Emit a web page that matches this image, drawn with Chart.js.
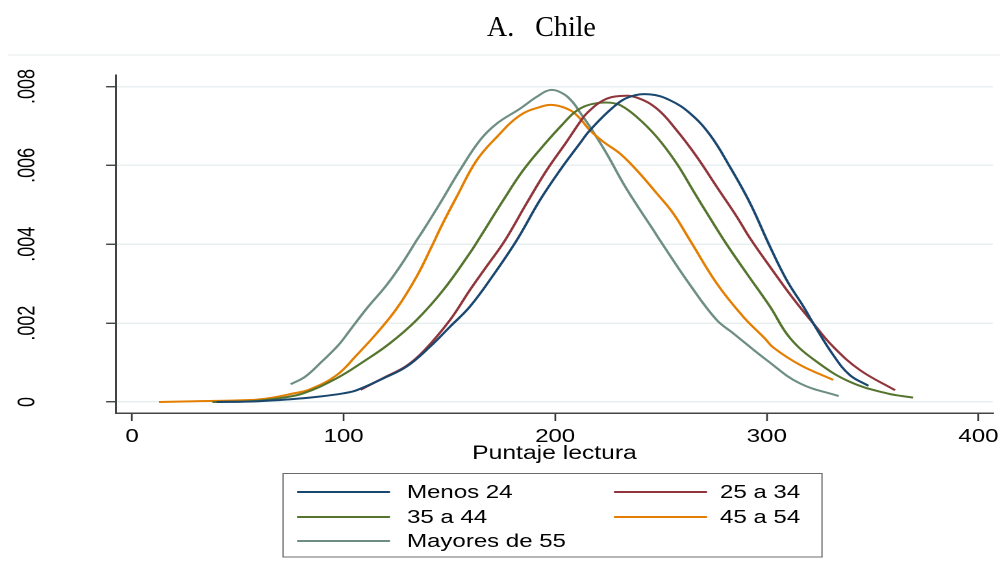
<!DOCTYPE html>
<html>
<head>
<meta charset="utf-8">
<script src="https://cdn.jsdelivr.net/npm/chart.js@4/dist/chart.umd.min.js"></script>
<style>
  html, body { margin: 0; padding: 0; background: #fff; overflow: hidden; }
  /* the reference graph is stretched horizontally; draw narrower and widen it */
  #wrap { width: 776px; height: 575px; transform: scaleX(1.298969); transform-origin: 0 0; }
</style>
</head>
<body>
<div id="wrap"><canvas id="chart" width="776" height="575"></canvas></div>
<script>
const S = 1008 / 776;

const titleText = 'A.   Chile';
const xTitle = 'Puntaje lectura';
const seriesNames = ['Menos 24', '25 a 34', '35 a 44', '45 a 54', 'Mayores de 55'];
const seriesColors = ['#1a476f', '#90353b', '#55752f', '#e37e00', '#6e8e84'];

const xTicks = [0, 100, 200, 300, 400];
const yTicks = [0, 0.002, 0.004, 0.006, 0.008];
const yTickLabels = ['0', '.002', '.004', '.006', '.008'];

// [puntaje, densidad]
const menos24 = [
  [40, 0], [60, 0.00002], [75, 0.00007], [87.3, 0.00013], [100, 0.00022], [106.2, 0.0003],
  [118.8, 0.0006], [129.8, 0.0009], [140.8, 0.0014], [150.3, 0.00191], [159.7, 0.00242],
  [170.5, 0.0032], [181.8, 0.0041], [192.8, 0.00512], [202.3, 0.00588], [211.7, 0.00656],
  [216.4, 0.00689], [227.5, 0.00748], [235.3, 0.00774], [244.8, 0.0078], [254.3, 0.00765],
  [263.7, 0.00732], [273.2, 0.00677], [282.6, 0.00596], [292.1, 0.00504], [301.5, 0.00394],
  [309.4, 0.00309], [317.3, 0.00242], [322, 0.00199], [331.4, 0.00119], [339.3, 0.00068],
  [348, 0.00041]
];
const de25a34 = [
  [108, 0.00031], [118.8, 0.00061], [129.8, 0.00092], [138, 0.0013], [150.3, 0.00208],
  [159.7, 0.00284], [168, 0.00347], [176.3, 0.0041], [186.5, 0.00504], [196, 0.00588],
  [205.4, 0.0066], [211.7, 0.0071], [214.9, 0.00732], [222.7, 0.00765], [230.6, 0.00776],
  [238.5, 0.00772], [248, 0.00744], [257.4, 0.00689], [266.9, 0.00622], [276.3, 0.00546],
  [285.8, 0.0047], [292.1, 0.00415], [301.5, 0.00343], [312.5, 0.00262], [322, 0.00199],
  [331.4, 0.0014], [344, 0.00081], [360.6, 0.0003]
];
const de35a44 = [
  [38, 0], [55.8, 0.00002], [70, 0.0001], [81, 0.00022], [96.7, 0.0006], [109.3, 0.00102],
  [121.9, 0.00149], [134.5, 0.00208], [147.1, 0.00284], [159.7, 0.00378], [164.5, 0.00418],
  [175.5, 0.00512], [184.9, 0.00588], [196, 0.0066], [203.8, 0.00706], [209, 0.00734],
  [214, 0.0075], [220, 0.00758], [226, 0.00759], [231, 0.00752], [238.5, 0.00723], [248, 0.00672],
  [257.4, 0.00605], [265.3, 0.00535], [273.2, 0.00466], [281, 0.004], [290.5, 0.00326],
  [301.5, 0.00242], [311, 0.00162], [323.6, 0.00102], [339.3, 0.00051], [356.7, 0.00022],
  [369.2, 0.00011]
];
const de45a54 = [
  [12.8, 0], [30, 0.00002], [55.8, 0.00005], [65, 0.0001], [74.7, 0.0002], [84, 0.00032],
  [96.7, 0.00068], [106.2, 0.00119], [115.6, 0.00174], [125.1, 0.00237], [134.5, 0.00318],
  [141.6, 0.00394], [146.4, 0.00448], [153.4, 0.0052], [162.9, 0.00613], [172.4, 0.00672],
  [183.4, 0.00727], [192.8, 0.00748], [199.1, 0.00753], [207, 0.0074], [211.7, 0.00719],
  [216.4, 0.00689], [222.7, 0.0066], [230.6, 0.0063], [238.5, 0.00588], [248, 0.00529],
  [255.8, 0.00478], [263.7, 0.0041], [276.3, 0.00301], [288.9, 0.00216], [299.1, 0.00161],
  [303.1, 0.00138], [315.7, 0.00094], [331.4, 0.00056]
];
const mayores55 = [
  [75, 0.00045], [81.8, 0.00064], [89.6, 0.00102], [97.5, 0.00144], [103, 0.00182],
  [110.9, 0.00237], [120.4, 0.00297], [128.2, 0.00356], [134.5, 0.0041], [137.7, 0.00436],
  [145.6, 0.00504], [155, 0.00588], [164.5, 0.00664], [172.4, 0.00706], [183.4, 0.00744],
  [191.3, 0.00774], [197.5, 0.00791], [203, 0.00784], [208, 0.00762], [212, 0.00732],
  [216.4, 0.00698], [224.3, 0.0063], [232.2, 0.00554], [240.1, 0.00487], [246.4, 0.00436],
  [249.5, 0.0041], [263.7, 0.00297], [276.3, 0.00208], [284.2, 0.00174], [300, 0.00106],
  [315.7, 0.00047], [334, 0.00015]
];

const seriesData = [menos24, de25a34, de35a44, de45a54, mayores55];

const datasets = seriesNames.map((name, i) => ({
  label: name,
  data: seriesData[i].map(p => ({ x: p[0], y: p[1] })),
  borderColor: seriesColors[i],
  backgroundColor: seriesColors[i],
  borderWidth: 2,
  pointRadius: 0,
  fill: false,
  tension: 0.4
}));

// title, faint outer frame and the boxed legend (drawn in chart coords)
const decorations = {
  id: 'decorations',
  beforeDraw(chart) {
    const ctx = chart.ctx;
    ctx.save();
    ctx.strokeStyle = '#edf2f3';
    ctx.lineWidth = 1.5;
    ctx.beginPath();
    ctx.moveTo(8 / S, 55);
    ctx.lineTo(1000 / S, 55);
    ctx.stroke();
    ctx.restore();
  },
  afterDraw(chart) {
    const ctx = chart.ctx;
    ctx.save();
    // title is not stretched in the reference
    ctx.translate(487 / S, 36);
    ctx.scale(1 / S, 1);
    ctx.fillStyle = '#000';
    ctx.font = '28px "Liberation Serif"';
    ctx.textBaseline = 'alphabetic';
    ctx.textAlign = 'left';
    ctx.fillText(titleText, 0, 0);
    ctx.restore();

    ctx.save();
    ctx.fillStyle = '#fff';
    ctx.strokeStyle = '#6b6b6b';
    ctx.lineWidth = 1;
    ctx.fillRect(283 / S, 473, (822 - 283) / S, 84);
    ctx.strokeRect(283 / S, 473.5, (822 - 283) / S, 83.5);
    const cols = [[297, 390, 407], [614, 707, 720]];
    const rows = [492, 517, 541];
    ctx.font = '18.5px "Liberation Sans"';
    ctx.textBaseline = 'middle';
    ctx.textAlign = 'left';
    chart.data.datasets.forEach((ds, i) => {
      const c = cols[i % 2];
      const y = rows[Math.floor(i / 2)];
      ctx.strokeStyle = ds.borderColor;
      ctx.lineWidth = 2;
      ctx.beginPath();
      ctx.moveTo(c[0] / S, y);
      ctx.lineTo(c[1] / S, y);
      ctx.stroke();
      ctx.fillStyle = '#000';
      ctx.fillText(ds.label, c[2] / S, y + 1);
    });
    ctx.restore();
  }
};

new Chart(document.getElementById('chart'), {
  type: 'line',
  data: { datasets },
  plugins: [decorations],
  options: {
    responsive: false,
    animation: false,
    devicePixelRatio: 2,
    layout: { padding: { left: 0, right: 776 - 993 / S, top: 75, bottom: 0 } },
    plugins: {
      legend: { display: false },
      title: { display: false },
      tooltip: { enabled: false }
    },
    scales: {
      x: {
        type: 'linear',
        min: -7.56,
        max: 406.9,
        afterBuildTicks: scale => { scale.ticks = xTicks.map(v => ({ value: v })); },
        afterFit: scale => { scale.height = 575 - 413; },
        grid: { drawOnChartArea: false, tickLength: 8, tickColor: '#333', tickWidth: 1.3 },
        border: { color: '#444', width: 1.5 },
        ticks: {
          color: '#000',
          font: { family: '"Liberation Sans"', size: 18.5 },
          padding: 5,
          maxRotation: 0
        },
        title: {
          display: true,
          text: xTitle,
          color: '#000',
          font: { family: '"Liberation Sans"', size: 19 },
          padding: { top: 0, bottom: 110 }
        }
      },
      y: {
        type: 'linear',
        min: -0.000279,
        max: 0.008292,
        afterBuildTicks: scale => { scale.ticks = yTicks.map(v => ({ value: v })); },
        afterFit: scale => { scale.width = 116 / S; },
        grid: { color: '#e8eff1', lineWidth: 1.5, tickLength: 7.7, tickColor: '#333', tickWidth: 1.3 },
        border: { color: '#444', width: 1.5 },
        ticks: {
          color: '#000',
          font: { family: '"Liberation Sans"', size: 18 },
          minRotation: 90,
          maxRotation: 90,
          crossAlign: 'center',
          padding: 42.5,
          callback: (v, i) => yTickLabels[i]
        }
      }
    }
  }
});
</script>
</body>
</html>
